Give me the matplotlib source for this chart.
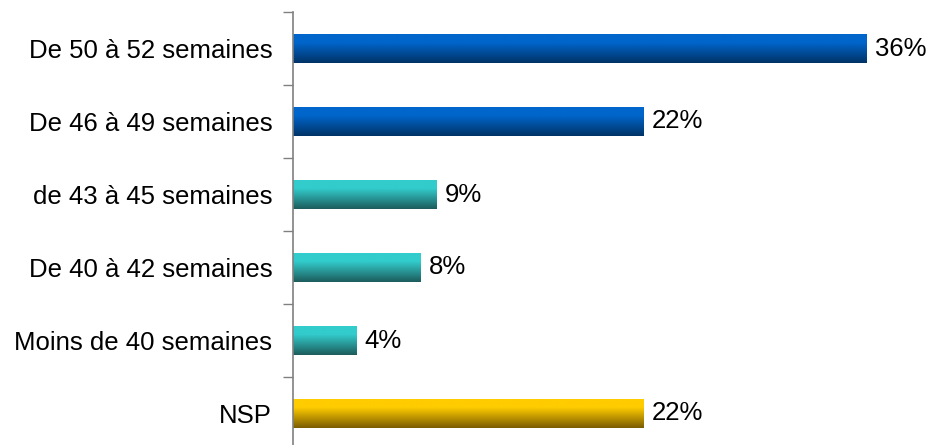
import numpy as np
import matplotlib.pyplot as plt
from matplotlib.colors import LinearSegmentedColormap

plt.rcParams['font.family'] = ['Liberation Sans', 'DejaVu Sans']

categories = ['De 50 à 52 semaines', 'De 46 à 49 semaines', 'de 43 à 45 semaines',
              'De 40 à 42 semaines', 'Moins de 40 semaines', 'NSP']
values = [36, 22, 9, 8, 4, 22]
groups = ['blue', 'blue', 'teal', 'teal', 'teal', 'gold']

# top colour, bottom colour of each gradient
shades = {
    'blue': ('#0066cc', '#003366'),
    'teal': ('#33cccc', '#1d5c5c'),
    'gold': ('#ffcc00', '#7a5c00'),
}

fig = plt.figure(figsize=(9.3, 4.45), dpi=100)
ax = fig.add_axes([293 / 930, -5 / 445, 640 / 930, 438 / 445])

n = len(categories)
ypos = np.arange(n)
bar_h = 0.4
bars = ax.barh(ypos, values, height=bar_h, color='none', edgecolor='none')

# vertical gradient: flat bright band on top, darkening towards the bottom
grad = np.concatenate([np.zeros(30), np.linspace(0, 1, 70)]).reshape(-1, 1)
for bar, v, g in zip(bars, values, groups):
    cmap = LinearSegmentedColormap.from_list(g, shades[g])
    y0 = bar.get_y()
    im = ax.imshow(grad, cmap=cmap, aspect='auto', origin='upper',
                   extent=[0, v, y0 + bar_h, y0], zorder=2)
    im.set_clip_path(bar)
    ax.text(v + 0.5, bar.get_y() + bar_h / 2, f'{v}%', va='center', ha='left',
            fontsize=18.5, color='black')

ax.set_xlim(0, 40.15)
ax.set_ylim(n - 0.5, -0.5)
ax.set_yticks(ypos)
ax.set_yticklabels(categories, fontsize=18.5)
ax.tick_params(axis='y', which='major', length=0, pad=15)
ax.set_yticks(np.arange(n + 1) - 0.5, minor=True)
ax.tick_params(axis='y', which='minor', length=7, width=1, color='#808080')
ax.set_xticks([])
for s in ['top', 'right', 'bottom']:
    ax.spines[s].set_visible(False)
ax.spines['left'].set_color('#808080')
ax.spines['left'].set_linewidth(1.2)

fig.savefig('out.png', dpi=100)
